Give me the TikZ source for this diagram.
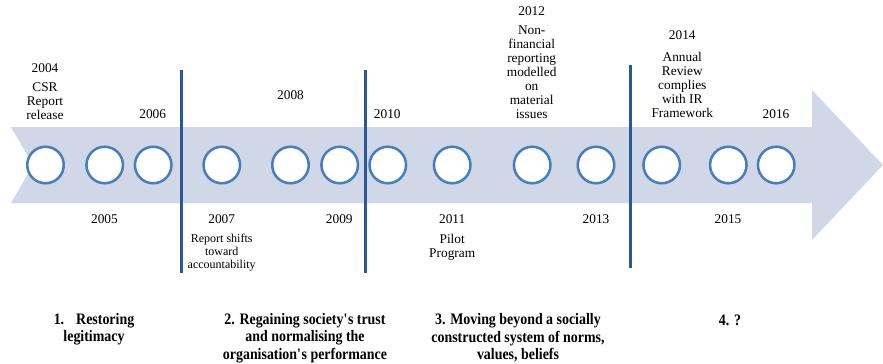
\documentclass[tikz,border=0pt]{standalone}
\usepackage{fontspec}
\setmainfont{Liberation Serif}
\newfontfamily\stagefont[FakeStretch=0.87]{Liberation Serif}
\usetikzlibrary{positioning}
\definecolor{band}{HTML}{D0D8E8}
\definecolor{ring}{HTML}{4A7EBB}
\definecolor{divide}{HTML}{2B5797}

\begin{document}
\begin{tikzpicture}[x=0.75pt, y=-0.75pt,
    yearlbl/.style={inner sep=1pt, font=\fontsize{10pt}{10.5pt}\selectfont},
    note/.style={inner sep=1pt, align=center, font=\fontsize{10pt}{10.5pt}\selectfont},
    dot/.style={circle, draw=ring, line width=1.9pt, fill=white,
                minimum size=27.4pt, inner sep=0pt},
    divider/.style={draw=divide, line width=2.25pt},
    stage/.style={align=center, font=\stagefont\bfseries\fontsize{12pt}{13.1pt}\selectfont}
]
    \useasboundingbox (0,0) rectangle (883,364);

    % arrow band
    \fill[band] (11,127) -- (812,127) -- (812,90) -- (883,165) -- (812,240)
        -- (812,203) -- (11,203) -- (33,165) -- cycle;

    % milestones
    \foreach \yr/\x in {2004/45.5, 2005/104.7, 2006/153.2, 2007/221.8, 2008/290.5,
                        2009/339.7, 2010/387.8, 2011/452.2, 2012/532.2, 2013/596,
                        2014/661.7, 2015/728.3, 2016/776.2}
        \node[dot] (c\yr) at (\x,165) {};

    % years above
    \node[yearlbl] (y2004) at (45,67.7) {2004};
    \node[yearlbl] (y2006) at (152.7,114) {2006};
    \node[yearlbl] (y2008) at (290.5,95) {2008};
    \node[yearlbl] (y2010) at (387.3,114) {2010};
    \node[yearlbl] (y2012) at (531.7,11) {2012};
    \node[yearlbl] (y2014) at (682.3,35) {2014};
    \node[yearlbl] (y2016) at (776,114) {2016};

    % years below
    \node[yearlbl] (y2005) at (104.5,219) {2005};
    \node[yearlbl] (y2007) at (221.7,219) {2007};
    \node[yearlbl] (y2009) at (339.3,219) {2009};
    \node[yearlbl] (y2011) at (452.2,219) {2011};
    \node[yearlbl] (y2013) at (596,219) {2013};
    \node[yearlbl] (y2015) at (728,219) {2015};

    % events
    \node[note, below=5.5pt of y2004] (d2004) {CSR\\Report\\release};
    \node[note, font=\fontsize{9pt}{9.75pt}\selectfont, below=5.2pt of y2007] (d2007)
        {Report shifts\\toward\\accountability};
    \node[note, below=5.5pt of y2011] (d2011) {Pilot\\Program};
    \node[note, below=5.5pt of y2012] (d2012)
        {Non-\\financial\\reporting\\modelled\\on\\material\\issues};
    \node[note, below=7pt of y2014] (d2014) {Annual\\Review\\complies\\with IR\\Framework};

    % stage dividers
    \draw[divider] (181.7,70) -- (181.7,273);
    \draw[divider] (365,70) -- (365,273);
    \draw[divider] (630.7,65) -- (630.7,268);

    % stages
    \node[stage] (s1) at (94,329) {1.\hspace{9pt}Restoring\\legitimacy};
    \node[stage] (s2) at (305,338)
        {2. Regaining society\textquotesingle s trust\\and normalising the\\organisation\textquotesingle s performance};
    \node[stage] (s3) at (518,338)
        {3. Moving beyond a socially\\constructed system of norms,\\values, beliefs};
    \node[stage] (s4) at (730,320) {4. ?};
\end{tikzpicture}
\end{document}
